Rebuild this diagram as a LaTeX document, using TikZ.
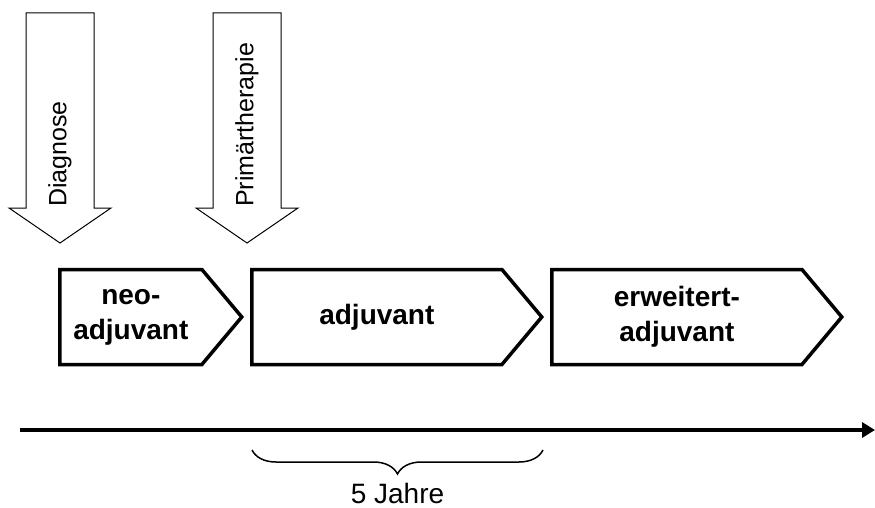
\documentclass[tikz,border=0pt]{standalone}
\usepackage{fontspec}
\setmainfont{Liberation Sans}
\usetikzlibrary{shapes.symbols, arrows.meta, positioning, calc,
                decorations.pathreplacing}
\tikzset{
  phase/.style={
    signal, signal to=east, signal pointer angle=100,
    draw, line width=3.5pt, minimum height=95pt,
    align=center, inner sep=0pt,
    font=\bfseries\fontsize{28}{35}\selectfont
  },
  evarrow/.style={draw, line width=1pt},
  evlbl/.style={rotate=90, anchor=west, inner sep=0pt,
    font=\fontsize{25}{30}\selectfont},
  timeline/.style={-{Triangle[length=13pt, width=15pt]}, line width=3.5pt},
  span/.style={decorate, decoration={brace, mirror, amplitude=24pt},
    line width=1.5pt}
}

\begin{document}
\begin{tikzpicture}[x=1pt, y=-1pt, node distance=6pt]
  \useasboundingbox (0,0) rectangle (875,508);

  % event arrows
  \draw[evarrow] (26,13) -- (94,13) -- (94,208) -- (111,208)
        -- (60,243) -- (9,208) -- (26,208) -- cycle;
  \draw[evarrow] (213,13) -- (281,13) -- (281,208) -- (298,208)
        -- (247,243) -- (196,208) -- (213,208) -- cycle;
  \node[evlbl] (diag) at (60,207) {Diagnose};
  \node[evlbl] (prim) at (247,207) {Primärtherapie};

  % phases
  \node[phase, minimum width=182pt, anchor=west] (neo) at (58,317)
        {neo-\\adjuvant};
  \node[phase, minimum width=290pt, right=of neo] (adj)
        {adjuvant};
  \node[phase, minimum width=290pt, right=of adj] (ext)
        {erweitert-\\adjuvant};

  % time axis
  \coordinate (t0) at (20,430);
  \coordinate (t1) at (875,430);
  \draw[timeline] (t0) -- (t1);

  \coordinate (b0) at (252,450);
  \coordinate (b1) at (543,450);
  \draw[span] (b0) -- (b1);
  \node[font=\fontsize{28}{32}\selectfont, inner sep=1pt, anchor=base]
        (jahre) at ($(b0)!0.5!(b1)+(0,53)$) {5 Jahre};

\end{tikzpicture}
\end{document}
